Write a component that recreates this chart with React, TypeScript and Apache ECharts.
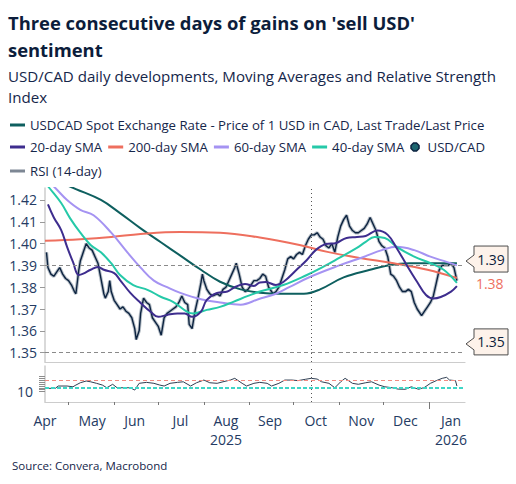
import React, { useEffect, useRef } from "react";
import * as echarts from "echarts";

const FONT = "'Open Sans', 'Noto Sans', sans-serif";
const TITLE_COLOR = "#0c1d3b";
const TEXT_COLOR = "#15264a";
const AXIS_TEXT = "#243b63";

// x positions are calendar days counted from 15 Apr 2025
const X_MAX = 285.5;

const titleLines = ["Three consecutive days of gains on 'sell USD'", "sentiment"];
const subtitleLines = ["USD/CAD daily developments, Moving Averages and Relative Strength", "Index"];
const sourceText = "Source: Convera, Macrobond";

const SPOT_NAME = "USDCAD Spot Exchange Rate - Price of 1 USD in CAD, Last Trade/Last Price";

// month boundary ticks (1 May ... 1 Jan)
const monthStartDays = [16, 47, 77, 108, 139, 169, 200, 230];
const yearStartDays = [261];
// month labels (mid-month)
const monthLabelDays = [0, 32, 61, 92, 123, 153, 184, 215, 245, 276];
const monthLabels = ["Apr", "May", "Jun", "Jul", "Aug\n2025", "Sep", "Oct", "Nov", "Dec", "Jan\n2026"];

const priceTicks = [1.35, 1.36, 1.37, 1.38, 1.39, 1.4, 1.41, 1.42];
const rsiTicks = [10, 20, 30, 40, 50, 60, 70, 80, 90];
const rsiLabelTicks = [10];

const resistanceLevel = 1.392;
const supportLevel = 1.354;
const markerDay = 181;
const rsiOverbought = 70;
const rsiOversold = 30;

// USD/CAD daily close
const priceDays = [1, 2, 4, 6, 8, 10, 12, 14, 16, 18, 20, 21, 23, 24, 26, 28, 30, 32, 34, 36, 38, 40, 41, 43, 44, 45, 47, 49, 51, 53, 55, 57, 59, 61, 62, 64, 65, 67, 69, 71, 73, 75, 77, 79, 81, 83, 85, 87, 89, 91, 93, 95, 97, 98, 100, 102, 104, 106, 107, 108, 110, 112, 114, 117, 119, 121, 123, 125, 127, 129, 130, 132, 134, 136, 138, 140, 142, 144, 146, 148, 150, 152, 155, 157, 159, 161, 163, 165, 167, 169, 171, 173, 175, 177, 179, 181, 183, 185, 187, 189, 191, 193, 195, 197, 199, 201, 203, 205, 207, 209, 211, 213, 215, 217, 219, 221, 223, 225, 227, 229, 231, 233, 235, 237, 239, 241, 243, 245, 247, 249, 251, 253, 256, 258, 260, 262, 264, 266, 268, 270, 272, 274, 276, 278, 280];
const priceClose = [1.396, 1.389, 1.386, 1.385, 1.387, 1.389, 1.386, 1.384, 1.383, 1.381, 1.378, 1.377, 1.388, 1.392, 1.396, 1.4, 1.398, 1.397, 1.394, 1.391, 1.384, 1.377, 1.375, 1.378, 1.383, 1.378, 1.374, 1.372, 1.37, 1.371, 1.369, 1.368, 1.366, 1.361, 1.356, 1.36, 1.368, 1.375, 1.373, 1.372, 1.366, 1.364, 1.362, 1.358, 1.366, 1.368, 1.369, 1.37, 1.371, 1.373, 1.376, 1.373, 1.372, 1.363, 1.361, 1.369, 1.375, 1.382, 1.386, 1.383, 1.379, 1.377, 1.376, 1.377, 1.376, 1.379, 1.38, 1.383, 1.386, 1.389, 1.391, 1.386, 1.38, 1.378, 1.379, 1.381, 1.383, 1.383, 1.384, 1.386, 1.385, 1.38, 1.377, 1.378, 1.38, 1.384, 1.388, 1.393, 1.394, 1.393, 1.395, 1.396, 1.395, 1.399, 1.402, 1.404, 1.404, 1.405, 1.403, 1.402, 1.399, 1.398, 1.4, 1.396, 1.403, 1.408, 1.411, 1.413, 1.408, 1.406, 1.405, 1.405, 1.406, 1.407, 1.409, 1.412, 1.409, 1.406, 1.401, 1.399, 1.398, 1.394, 1.386, 1.385, 1.383, 1.38, 1.378, 1.378, 1.379, 1.378, 1.373, 1.37, 1.367, 1.369, 1.371, 1.373, 1.376, 1.382, 1.388, 1.39, 1.39, 1.39, 1.391, 1.389, 1.383];

// dark teal line (legend: USDCAD Spot Exchange Rate ...)
const spotDays = [0, 21, 38, 51, 65, 79, 92, 106, 119, 133, 146, 160, 176, 187, 203, 221, 233, 248, 280];
const spotVals = [1.431, 1.425, 1.42, 1.414, 1.407, 1.4005, 1.3945, 1.388, 1.3825, 1.379, 1.3775, 1.377, 1.377, 1.379, 1.3845, 1.388, 1.39, 1.391, 1.391];

const sma200Days = [0, 24, 45, 65, 92, 119, 146, 173, 192, 214, 237, 260, 280];
const sma200Vals = [1.4013, 1.402, 1.403, 1.4044, 1.4053, 1.405, 1.4028, 1.3994, 1.3962, 1.3934, 1.391, 1.388, 1.3842];

const sma60Days = [0, 7, 15, 24, 33, 45, 56, 65, 74, 83, 92, 106, 119, 133, 145, 157, 166, 180, 200, 217, 229, 239, 251, 262, 273, 280];
const sma60Vals = [1.43, 1.4255, 1.42, 1.4155, 1.413, 1.405, 1.396, 1.389, 1.383, 1.38, 1.3774, 1.3745, 1.373, 1.372, 1.3745, 1.377, 1.38, 1.3847, 1.39, 1.394, 1.397, 1.3985, 1.397, 1.394, 1.3916, 1.39];

const sma40Days = [0, 3, 11, 17, 24, 31, 38, 45, 51, 60, 70, 79, 87, 97, 101, 110, 119, 128, 138, 146, 162, 178, 189, 200, 212, 218, 224, 231, 239, 251, 262, 271, 280];
const sma40Vals = [1.428, 1.4255, 1.4186, 1.4117, 1.405, 1.3994, 1.396, 1.391, 1.3856, 1.381, 1.3787, 1.3755, 1.3733, 1.3686, 1.368, 1.3696, 1.371, 1.3733, 1.376, 1.378, 1.381, 1.3856, 1.3893, 1.3934, 1.398, 1.4008, 1.403, 1.4026, 1.3985, 1.394, 1.391, 1.388, 1.382];

const sma20Days = [2, 6, 11, 15, 19, 23, 26, 31, 36, 40, 47, 51, 58, 65, 72, 77, 83, 90, 95, 100, 106, 110, 117, 124, 129, 136, 142, 146, 150, 157, 162, 171, 178, 184, 191, 198, 205, 212, 218, 226, 233, 239, 246, 253, 259, 264, 269, 276, 280];
const sma20Vals = [1.418, 1.412, 1.4062, 1.3985, 1.3916, 1.3856, 1.3862, 1.388, 1.3893, 1.388, 1.3865, 1.3833, 1.3774, 1.3728, 1.3686, 1.3664, 1.3673, 1.368, 1.368, 1.3664, 1.3688, 1.3742, 1.3774, 1.378, 1.38, 1.3815, 1.3806, 1.3822, 1.3824, 1.381, 1.3824, 1.388, 1.3925, 1.397, 1.3998, 1.4003, 1.4026, 1.403, 1.4035, 1.406, 1.404, 1.398, 1.39, 1.3824, 1.3764, 1.3748, 1.3755, 1.378, 1.3805];

const rsiDays = [0, 7, 9, 15, 19, 21, 24, 28, 31, 35, 39, 42, 46, 49, 54, 58, 61, 64, 69, 74, 78, 81, 85, 90, 94, 99, 103, 108, 112, 117, 121, 126, 129, 134, 137, 142, 146, 151, 154, 159, 163, 168, 172, 177, 181, 185, 188, 193, 197, 201, 204, 209, 213, 218, 222, 227, 231, 236, 240, 245, 249, 254, 258, 262, 266, 270, 273, 275, 279, 280];
const rsiVals = [27, 27, 39, 39, 35, 44, 56, 65, 61, 53, 44, 30, 48, 30, 30, 30, 18, 53, 58, 53, 44, 39, 53, 58, 61, 39, 56, 70, 56, 53, 61, 70, 79, 53, 39, 53, 58, 53, 39, 53, 70, 70, 67, 74, 79, 75, 61, 53, 30, 61, 79, 53, 48, 56, 61, 44, 35, 30, 23, 22, 35, 22, 32, 53, 67, 79, 84, 70, 67, 39];

const C = {
  price: "#0c2340",
  priceWick: "#97a2ae",
  spot: "#0e5f5f",
  sma20: "#3e2d8e",
  sma200: "#ee6f5e",
  sma60: "#a593f2",
  sma40: "#25c9a8",
  rsi: "#2f3e52",
  rsiLegend: "#7d8794",
  ob: "#f28b82",
  os: "#3fd6c6",
  guide: "#8a8a8a",
  axis: "#cccccc",
};

const zip = (d: number[], v: number[]) => d.map((x, i) => [x, v[i]]);

const LINE_ICON = "path://M0,0 H15 V3 H0 Z";
const OCT_ICON = "path://M2.2,0 H4.8 L7,2.2 V4.8 L4.8,7 H2.2 L0,4.8 V2.2 Z";

function lineSeries(name: string, days: number[], vals: number[], color: string, width: number, extra: any = {}) {
  return {
    type: "line",
    name,
    xAxisIndex: 0,
    yAxisIndex: 0,
    data: zip(days, vals),
    showSymbol: false,
    symbol: "none",
    smooth: 0.4,
    color,
    lineStyle: { color, width },
    silent: true,
    ...extra,
  };
}

export default function App() {
  const ref = useRef<HTMLDivElement>(null);
  useEffect(() => {
    const chart = echarts.init(ref.current!, null, { renderer: "svg" });
    const legendText = { fontFamily: FONT, fontSize: 13.2, color: TEXT_COLOR, lineHeight: 16 };
    const legendBase = {
      orient: "horizontal",
      padding: 0,
      itemWidth: 15,
      itemHeight: 8,
      itemGap: 6,
      selectedMode: false,
      textStyle: legendText,
      itemStyle: { borderWidth: 0 },
    };
    const option: any = {
      animation: false,
      backgroundColor: "#ffffff",
      textStyle: { fontFamily: FONT },
      title: [
        {
          text: titleLines.join("\n"),
          left: 8,
          top: 9,
          padding: 0,
          textStyle: { fontFamily: FONT, fontSize: 18.4, fontWeight: "bold", color: TITLE_COLOR, lineHeight: 27 },
        },
        {
          text: subtitleLines.join("\n"),
          left: 8,
          top: 65,
          padding: 0,
          textStyle: { fontFamily: FONT, fontSize: 15.1, fontWeight: "normal", color: TEXT_COLOR, lineHeight: 21 },
        },
        {
          text: sourceText,
          left: 12,
          top: 458,
          padding: 0,
          textStyle: { fontFamily: FONT, fontSize: 11.5, fontWeight: "normal", color: TEXT_COLOR, lineHeight: 14 },
        },
      ],
      legend: [
        { ...legendBase, left: 10, top: 117, data: [{ name: SPOT_NAME, icon: LINE_ICON }] },
        {
          ...legendBase,
          left: 10,
          top: 139,
          data: [
            { name: "20-day SMA", icon: LINE_ICON },
            { name: "200-day SMA", icon: LINE_ICON },
            { name: "60-day SMA", icon: LINE_ICON },
            { name: "40-day SMA", icon: LINE_ICON },
            { name: "USD/CAD", icon: OCT_ICON, itemStyle: { color: "#1d6670", borderColor: C.price, borderWidth: 1.5 } },
          ],
        },
        {
          ...legendBase,
          left: 10,
          top: 163,
          data: [{ name: "RSI (14-day)", icon: LINE_ICON, itemStyle: { color: C.rsiLegend, borderWidth: 0 } }],
        },
      ],
      grid: [
        { left: 45, right: 51, top: 188, height: 174 },
        { left: 45, right: 51, top: 366, height: 36 },
      ],
      xAxis: [
        {
          type: "value",
          gridIndex: 0,
          min: 0,
          max: X_MAX,
          position: "bottom",
          axisLine: { show: true, onZero: false, lineStyle: { color: C.axis, width: 1.2 } },
          axisTick: { show: false },
          axisLabel: { show: false },
          splitLine: { show: false },
        },
        {
          type: "value",
          gridIndex: 1,
          min: 0,
          max: X_MAX,
          position: "bottom",
          axisLine: { show: true, onZero: false, lineStyle: { color: C.axis, width: 1.2 } },
          axisTick: { show: true, customValues: monthStartDays, length: 3, lineStyle: { color: "#777" } },
          axisLabel: {
            show: true,
            customValues: monthLabelDays,
            formatter: (v: number) => monthLabels[monthLabelDays.indexOf(Math.round(v))] ?? "",
            color: AXIS_TEXT,
            fontFamily: FONT,
            fontSize: 14,
            lineHeight: 19,
            margin: 9,
          },
          splitLine: { show: false },
        },
        {
          type: "value",
          gridIndex: 1,
          min: 0,
          max: X_MAX,
          position: "bottom",
          axisLine: { show: false, onZero: false },
          axisTick: { show: true, customValues: yearStartDays, length: 7, lineStyle: { color: "#777" } },
          axisLabel: { show: false },
          splitLine: { show: false },
        },
      ],
      yAxis: [
        {
          type: "value",
          gridIndex: 0,
          min: 1.3457,
          max: 1.4255,
          axisLine: { show: true, lineStyle: { color: C.axis, width: 1.5 } },
          axisTick: { show: true, customValues: priceTicks, length: 5, lineStyle: { color: "#999" } },
          axisLabel: {
            show: true,
            customValues: priceTicks,
            formatter: (v: number) => v.toFixed(2),
            color: AXIS_TEXT,
            fontFamily: FONT,
            fontSize: 14,
            margin: 8,
          },
          splitLine: { show: false },
        },
        {
          type: "value",
          gridIndex: 1,
          min: -44,
          max: 143,
          axisLine: { show: true, lineStyle: { color: C.axis, width: 1.5 } },
          axisTick: { show: true, customValues: rsiTicks, length: 6, lineStyle: { color: "#8c8c8c" } },
          axisLabel: {
            show: true,
            customValues: rsiLabelTicks,
            formatter: (v: number) => String(Math.round(v)),
            color: AXIS_TEXT,
            fontFamily: FONT,
            fontSize: 14,
            margin: 12,
          },
          splitLine: { show: false },
        },
      ],
      series: [
        {
          type: "line",
          name: "USD/CAD range",
          xAxisIndex: 0,
          yAxisIndex: 0,
          data: zip(priceDays, priceClose),
          showSymbol: false,
          symbol: "none",
          color: C.priceWick,
          lineStyle: { color: C.priceWick, width: 3.4, opacity: 0.7 },
          silent: true,
        },
        {
          type: "line",
          name: "USD/CAD",
          xAxisIndex: 0,
          yAxisIndex: 0,
          data: zip(priceDays, priceClose),
          showSymbol: false,
          symbol: "none",
          color: C.price,
          lineStyle: { color: C.price, width: 1.4 },
          silent: true,
          markLine: {
            silent: true,
            symbol: ["none", "none"],
            label: { show: false },
            data: [
              { yAxis: resistanceLevel, lineStyle: { color: C.guide, type: [4, 3], width: 1 } },
              { yAxis: supportLevel, lineStyle: { color: C.guide, type: [4, 3], width: 1 } },
              { xAxis: markerDay, lineStyle: { color: "#555", type: [1, 3], width: 1 } },
            ],
          },
        },
        lineSeries(SPOT_NAME, spotDays, spotVals, C.spot, 2),
        lineSeries("200-day SMA", sma200Days, sma200Vals, C.sma200, 2, {
          endLabel: {
            show: true,
            formatter: (p: any) => Number(p.value[1]).toFixed(2),
            color: C.sma200,
            fontFamily: FONT,
            fontSize: 14,
            distance: 19,
            offset: [0, 5],
          },
        }),
        lineSeries("60-day SMA", sma60Days, sma60Vals, C.sma60, 2),
        lineSeries("40-day SMA", sma40Days, sma40Vals, C.sma40, 2),
        lineSeries("20-day SMA", sma20Days, sma20Vals, C.sma20, 2),
        {
          type: "line",
          name: "RSI (14-day)",
          xAxisIndex: 1,
          yAxisIndex: 1,
          data: zip(rsiDays, rsiVals),
          showSymbol: false,
          symbol: "none",
          color: C.rsi,
          lineStyle: { color: C.rsi, width: 1 },
          silent: true,
          markLine: {
            silent: true,
            symbol: ["none", "none"],
            label: { show: false },
            data: [
              { yAxis: rsiOverbought, lineStyle: { color: C.ob, type: [4, 3], width: 1.2 } },
              { yAxis: rsiOversold, lineStyle: { color: C.os, type: [4, 2], width: 2 } },
              { xAxis: markerDay, lineStyle: { color: "#555", type: [1, 3], width: 1 } },
            ],
          },
        },
      ],
    };
    chart.setOption(option);

    const callout = (level: number) => {
      const p = chart.convertToPixel({ xAxisIndex: 0, yAxisIndex: 0 }, [X_MAX, level]) as number[];
      const tx = p[0] + 1;
      const ty = p[1];
      const bx = tx + 8;
      const bw = 34;
      const bh = 26;
      const top = ty - bh / 2 - 2;
      return [
        {
          type: "polygon",
          shape: {
            points: [
              [tx, ty],
              [bx, ty - 6],
              [bx, top],
              [bx + bw, top],
              [bx + bw, top + bh],
              [bx, top + bh],
              [bx, ty + 6],
            ],
          },
          style: { fill: "#fdf2ea", stroke: "#4d4d4d", lineWidth: 1 },
          silent: true,
        },
        {
          type: "text",
          style: {
            text: level.toFixed(2),
            x: bx + bw / 2,
            y: top + bh / 2,
            textAlign: "center",
            textVerticalAlign: "middle",
            fill: TITLE_COLOR,
            fontFamily: FONT,
            fontSize: 14,
          },
          silent: true,
        },
      ];
    };
    chart.setOption({ graphic: [...callout(resistanceLevel), ...callout(supportLevel)] });

    return () => chart.dispose();
  }, []);
  return <div ref={ref} style={{ position: "fixed", left: 0, top: 0, width: 516, height: 484 }} />;
}
